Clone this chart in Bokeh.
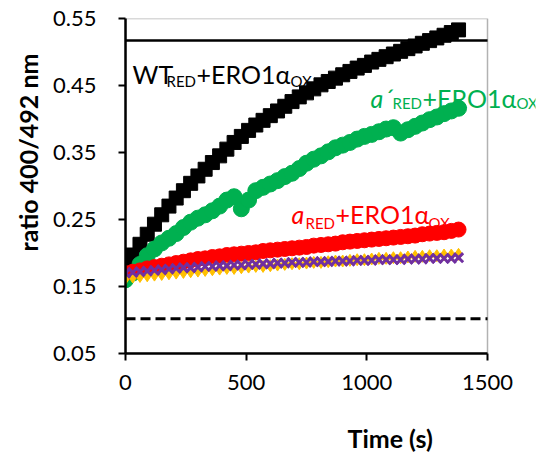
from bokeh.plotting import figure
from bokeh.models import Label, FixedTicker, Range1d, Title, BoxAnnotation
from bokeh.embed import file_html
from bokeh.resources import INLINE

# ---------------- data ----------------
time_s = [0, 30, 60, 90, 120, 150, 180, 210, 240, 270, 300, 330, 360, 390, 420, 450,
          480, 510, 540, 570, 600, 630, 660, 690, 720, 750, 780, 810, 840, 870, 900,
          930, 960, 990, 1020, 1050, 1080, 1110, 1140, 1170, 1200, 1230, 1260, 1290,
          1320, 1350, 1380]

wt_red = [0.182, 0.197, 0.213, 0.228, 0.243, 0.257, 0.270, 0.282, 0.293, 0.304, 0.315,
          0.325, 0.335, 0.345, 0.355, 0.365, 0.374, 0.383, 0.391, 0.398, 0.405, 0.412,
          0.419, 0.426, 0.433, 0.439, 0.445, 0.451, 0.456, 0.461, 0.466, 0.471, 0.476,
          0.480, 0.485, 0.489, 0.493, 0.497, 0.501, 0.505, 0.509, 0.513, 0.517, 0.521,
          0.525, 0.529, 0.533]

a_prime_red = [0.160, 0.170, 0.183, 0.196, 0.206, 0.215, 0.222, 0.229, 0.238, 0.246, 0.252,
               0.257, 0.263, 0.270, 0.279, 0.284, 0.266, 0.279, 0.293, 0.298, 0.303, 0.308,
               0.314, 0.319, 0.326, 0.334, 0.340, 0.345, 0.351, 0.357, 0.361, 0.365, 0.370,
               0.374, 0.377, 0.381, 0.385, 0.387, 0.379, 0.384, 0.389, 0.394, 0.399, 0.403,
               0.408, 0.412, 0.416]

a_red = [0.170, 0.172, 0.174, 0.177, 0.179, 0.181, 0.183, 0.185, 0.187, 0.189, 0.191,
         0.192, 0.194, 0.195, 0.197, 0.198, 0.199, 0.200, 0.201, 0.203, 0.204, 0.205,
         0.206, 0.207, 0.208, 0.209, 0.211, 0.212, 0.213, 0.214, 0.216, 0.217, 0.218,
         0.219, 0.220, 0.221, 0.222, 0.223, 0.224, 0.225, 0.226, 0.228, 0.229, 0.230,
         0.231, 0.233, 0.235]

yellow_series = [0.162, 0.164, 0.165, 0.166, 0.167, 0.168, 0.169, 0.170, 0.171, 0.172, 0.173,
                 0.174, 0.175, 0.176, 0.177, 0.177, 0.178, 0.179, 0.180, 0.180, 0.181, 0.182,
                 0.183, 0.184, 0.184, 0.185, 0.186, 0.186, 0.187, 0.188, 0.188, 0.189, 0.190,
                 0.190, 0.191, 0.192, 0.192, 0.193, 0.193, 0.194, 0.195, 0.195, 0.196, 0.196,
                 0.197, 0.197, 0.198]

purple_series = [0.170, 0.171, 0.172, 0.173, 0.174, 0.175, 0.176, 0.177, 0.178, 0.178, 0.179,
                 0.180, 0.180, 0.181, 0.181, 0.182, 0.182, 0.183, 0.183, 0.184, 0.184, 0.185,
                 0.185, 0.186, 0.186, 0.186, 0.187, 0.187, 0.187, 0.188, 0.188, 0.188, 0.189,
                 0.189, 0.189, 0.190, 0.190, 0.190, 0.190, 0.191, 0.191, 0.191, 0.192, 0.192,
                 0.192, 0.192, 0.193]

ref_levels = [0.517, 0.102]          # solid (oxidised) and dashed (reduced) levels
x_limits = [0, 1500]
y_limits = [0.05, 0.55]
x_ticks = [0, 500, 1000, 1500]
y_ticks = [0.05, 0.15, 0.25, 0.35, 0.45, 0.55]
y_tick_labels = ["0.05", "0.15", "0.25", "0.35", "0.45", "0.55"]

FONT = "Lato"

# ---------------- layout ----------------
W, H = 540, 459
LEFT, TOP, BOTTOM, RIGHT = 125, 18, 106, 5
AXES_W = 362                      # pixel width of the 0..1500 axis box
frame_w = W - LEFT - RIGHT
x_view_end = x_limits[1] * frame_w / AXES_W   # extra room on the right for the labels

p = figure(width=W, height=H, output_backend="svg", toolbar_location=None,
           x_range=Range1d(x_limits[0], x_view_end), y_range=Range1d(*y_limits),
           min_border_left=LEFT, min_border_right=RIGHT, min_border_top=TOP,
           min_border_bottom=BOTTOM)
p.background_fill_color = "white"
p.border_fill_color = "white"
p.outline_line_color = None
p.grid.visible = False

for ax in (p.xaxis, p.yaxis):
    ax.axis_line_width = 2.5
    ax.axis_line_color = "black"
    ax.major_tick_line_width = 2
    ax.major_tick_line_color = "black"
    ax.major_tick_out = 7
    ax.major_tick_in = 0
    ax.minor_tick_line_color = None
    ax.major_label_text_font = FONT
    ax.major_label_text_font_size = "22px"
    ax.major_label_text_color = "black"

p.xaxis.ticker = FixedTicker(ticks=x_ticks)
p.yaxis.ticker = FixedTicker(ticks=y_ticks)
p.xaxis.bounds = tuple(x_limits)
p.yaxis.major_label_overrides = {t: l for t, l in zip(y_ticks, y_tick_labels)}
p.xaxis.major_label_standoff = 14
p.yaxis.major_label_standoff = 22

# plot box (top and right edges)
p.add_layout(BoxAnnotation(left=x_limits[0], right=x_limits[1], bottom=y_limits[0],
                           top=y_limits[1], fill_color=None, line_color="black",
                           line_width=1.5))

# reference levels
p.segment(x0=[x_limits[0]], x1=[x_limits[1]], y0=[ref_levels[0]], y1=[ref_levels[0]],
          line_color="black", line_width=2.5)
p.segment(x0=[x_limits[0]], x1=[x_limits[1]], y0=[ref_levels[1]], y1=[ref_levels[1]],
          line_color="black", line_width=3, line_dash="10 5")

# series
p.scatter(time_s, wt_red, marker="square", size=14, color="black")
p.scatter(time_s, a_prime_red, marker="circle", size=16, color="#00B050")
p.scatter(time_s, a_red, marker="circle", size=15, color="#FF0000")
p.scatter(time_s, yellow_series, marker="diamond", size=12, color="#FFC000")
p.scatter(time_s, purple_series, marker="x", size=13, line_color="#7030A0",
          line_width=3)


def seg(txt, x, y, color, size, style="normal"):
    p.add_layout(Label(x=x, y=y, x_units="screen", y_units="screen", text=txt,
                       text_color=color, text_font=FONT, text_font_size=size,
                       text_font_style=style, text_align="left",
                       text_baseline="alphabetic", level="overlay"))


MAIN = "25px"
SUB = "15px"
# WT_RED + ERO1a_OX
seg("WT", 7, 280, "black", MAIN)
seg("RED", 41, 273, "black", SUB)
seg("+ERO1\u03b1", 71, 280, "black", MAIN)
seg("OX", 165, 273, "black", SUB)
# a'_RED + ERO1a_OX (green)
seg("a\u00b4", 245, 256, "#00B050", MAIN, style="italic")
seg("RED", 267, 251, "#00B050", SUB)
seg("+ERO1\u03b1", 297, 256, "#00B050", MAIN)
seg("OX", 391, 251, "#00B050", SUB)
# a_RED + ERO1a_OX (red)
seg("a", 166, 140, "#FF0000", MAIN, style="italic")
seg("RED", 180, 131, "#FF0000", SUB)
seg("+ERO1\u03b1", 210, 140, "#FF0000", MAIN)
seg("OX", 303, 131, "#FF0000", SUB)

# axis titles
x_title = Title(text="Time (s)", align="left", offset=222, standoff=0,
                text_font=FONT, text_font_size="25px", text_font_style="bold",
                text_color="black")
x_title.padding = dict(left=0, right=0, top=28, bottom=0)
p.add_layout(x_title, "below")
p.add_layout(Title(text="ratio 400/492 nm", align="left", offset=102, standoff=16,
                   text_font=FONT, text_font_size="25px", text_font_style="bold",
                   text_color="black"), "left")

open("out.html", "w").write(file_html(p, INLINE))
